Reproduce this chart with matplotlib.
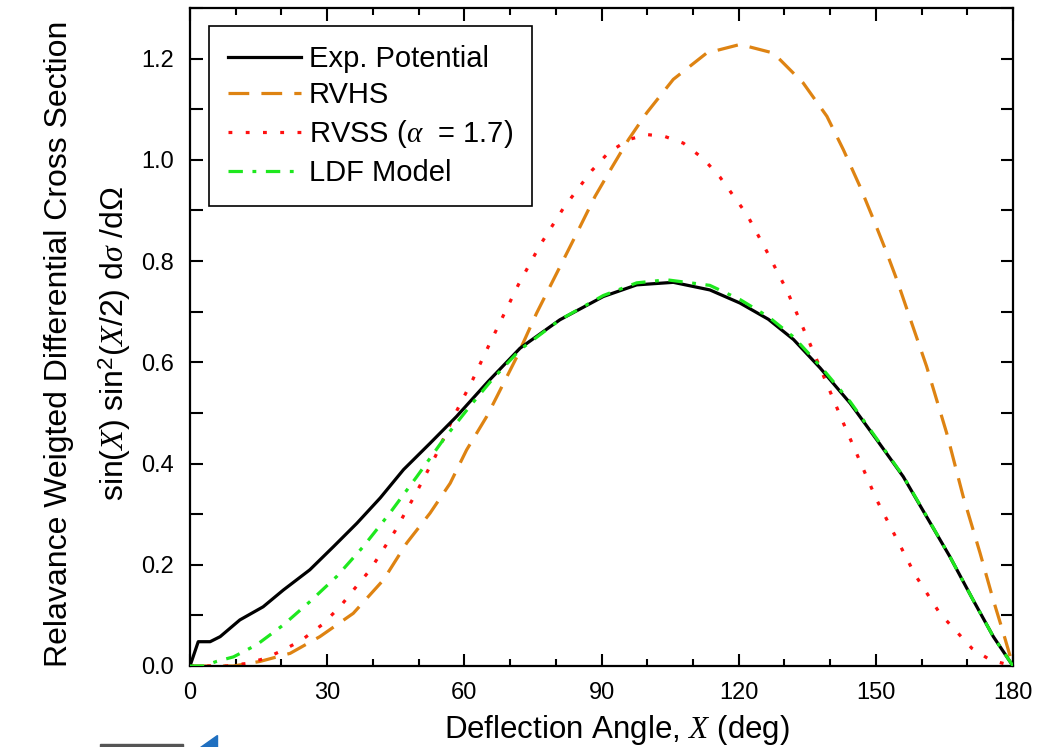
import matplotlib
matplotlib.use("Agg")
import matplotlib.pyplot as plt
import matplotlib.patches as patches
from matplotlib.ticker import MultipleLocator, FormatStrFormatter

# values (deflection angle in deg)
exp_x = [0, 1.8, 4.4, 6.6, 10.9, 16.0, 20.4, 26.2, 31.4, 36.5, 41.6, 46.7, 52.5, 58.3,
         65.2, 72.2, 80.9, 90.4, 97.7, 105.7, 113.7, 120.3, 126.5, 132.0, 137.8, 144.4,
         150.2, 156.0, 161.1, 166.2, 171.3, 175.7, 180]
exp_y = [0, 0.048, 0.048, 0.058, 0.091, 0.117, 0.150, 0.190, 0.236, 0.282, 0.332, 0.388,
         0.440, 0.493, 0.562, 0.628, 0.684, 0.730, 0.753, 0.758, 0.743, 0.717, 0.685,
         0.645, 0.589, 0.519, 0.447, 0.374, 0.295, 0.216, 0.130, 0.058, 0.0]

rvhs_x = [0, 9.5, 15.3, 21.9, 28.4, 35.7, 42.3, 47.4, 52.5, 56.9, 60.5, 64.9, 67.1, 71.5,
          75.8, 80.2, 84.6, 88.6, 92.2, 95.9, 99.9, 105.7, 113.0, 120.3, 127.6, 134.1,
          139.3, 142.9, 146.5, 149.5, 152.4, 154.6, 157.1, 161.1, 165.5, 169.1, 172.8,
          175.7, 177.9, 180]
rvhs_y = [0, 0, 0.009, 0.025, 0.058, 0.104, 0.170, 0.243, 0.302, 0.361, 0.427, 0.493,
          0.532, 0.611, 0.697, 0.776, 0.855, 0.928, 0.984, 1.040, 1.093, 1.159, 1.211,
          1.228, 1.211, 1.152, 1.086, 1.020, 0.948, 0.882, 0.816, 0.763, 0.697, 0.592,
          0.460, 0.335, 0.223, 0.130, 0.065, 0]

rvss_x = [0, 8, 12.4, 16.4, 20.5, 24.4, 28.8, 32.8, 36.1, 39.4, 44.8, 49.4, 53.7, 57.7,
          61.8, 65.6, 71.8, 76.6, 81.7, 87.9, 91.5, 95.9, 99.9, 103.9, 107.9, 112.3,
          115.9, 121.8, 126.1, 130.5, 136.0, 142.9, 150.2, 158.6, 164.0, 171.0, 175.0, 180]
rvss_y = [0, 0, 0.005, 0.015, 0.032, 0.051, 0.081, 0.117, 0.154, 0.190, 0.266, 0.341,
          0.415, 0.493, 0.565, 0.638, 0.753, 0.832, 0.905, 0.979, 1.014, 1.040, 1.050,
          1.046, 1.033, 1.002, 0.966, 0.892, 0.820, 0.743, 0.628, 0.480, 0.328, 0.180,
          0.104, 0.035, 0.012, 0]

ldf_x = [0, 3, 5.8, 9.5, 14.6, 20.4, 26.2, 32.1, 37.9, 43.7, 49.6, 55.4, 61.2, 66.0,
         72.2, 80.9, 90.4, 97.7, 104.3, 113.7, 120.3, 126.5, 132.0, 137.8, 144.4, 150.2,
         156.0, 161.1, 166.2, 171.3, 175.7, 180]
ldf_y = [0, 0, 0.009, 0.018, 0.042, 0.081, 0.127, 0.177, 0.236, 0.302, 0.374, 0.447,
         0.513, 0.565, 0.625, 0.684, 0.732, 0.757, 0.763, 0.752, 0.724, 0.690, 0.650,
         0.593, 0.522, 0.449, 0.375, 0.296, 0.216, 0.130, 0.058, 0.0]

labels = ["Exp. Potential", "RVHS", r"RVSS ($\alpha$  = 1.7)", "LDF Model"]

plt.rcParams['font.family'] = ['Liberation Sans', 'DejaVu Sans']
plt.rcParams['mathtext.fontset'] = 'custom'
plt.rcParams['mathtext.rm'] = 'Liberation Sans'
plt.rcParams['mathtext.it'] = 'Liberation Serif:italic'
plt.rcParams['mathtext.bf'] = 'Liberation Sans:bold'

fig = plt.figure(figsize=(10.47, 7.47), dpi=100)
ax = fig.add_axes([190 / 1047, 81 / 747, 823 / 1047, 658 / 747])

lw = 2.3
ax.plot(exp_x, exp_y, color='black', lw=lw, label=labels[0], zorder=4)
ax.plot(rvhs_x, rvhs_y, color='#DE8312', lw=lw, dashes=(6.5, 3.8), label=labels[1])
ax.plot(rvss_x, rvss_y, color='#FF1010', lw=lw, dashes=(1.2, 4.2), label=labels[2])
ax.plot(ldf_x, ldf_y, color='#1EE81E', lw=lw, dashes=(4.5, 3.0, 1.2, 3.0),
        label=labels[3], zorder=5)

ax.set_xlim(0, 180)
ax.set_ylim(0, 1.3)
ax.xaxis.set_major_locator(MultipleLocator(30))
ax.xaxis.set_minor_locator(MultipleLocator(10))
ax.yaxis.set_major_locator(MultipleLocator(0.2))
ax.yaxis.set_minor_locator(MultipleLocator(0.1))
ax.yaxis.set_major_formatter(FormatStrFormatter('%.1f'))

ax.tick_params(which='both', direction='in', top=True, right=True, width=1.5,
               labelsize=17, pad=11.5)
ax.tick_params(axis='x', which='major', length=9)
ax.tick_params(axis='x', which='minor', length=5)
ax.tick_params(axis='y', which='both', length=9)
for s in ax.spines.values():
    s.set_linewidth(1.6)

ax.set_xlabel(r"Deflection Angle, $X$ (deg)", fontsize=22.5)
ax.xaxis.set_label_coords(0.519, -0.071)
ax.set_ylabel("Relavance Weigted Differential Cross Section\n"
              r"sin($X$) sin$^2$($X$/2) d$\sigma$ /d$\Omega$",
              fontsize=23, linespacing=1.8)
ax.yaxis.set_label_coords(-0.069, 0.49)

leg = ax.legend(loc='upper left', bbox_to_anchor=(0.023, 0.973), borderaxespad=0,
                fontsize=21, handlelength=2.5, handletextpad=0.27, labelspacing=0.3,
                fancybox=False, framealpha=1, edgecolor='black', borderpad=0.65)
leg.get_frame().set_linewidth(1.2)

# bits of the slide visible along the bottom edge
fig.patches.append(patches.Polygon([[200 / 1047, 0], [217 / 1047, 0], [217 / 1047, 12 / 747]],
                                   closed=True, transform=fig.transFigure,
                                   color='#1F6FC0', figure=fig))
fig.patches.append(patches.Rectangle((100 / 1047, 0), 83 / 1047, 3 / 747,
                                     transform=fig.transFigure, color='#555555',
                                     figure=fig))

fig.savefig("out.png", dpi=100)
